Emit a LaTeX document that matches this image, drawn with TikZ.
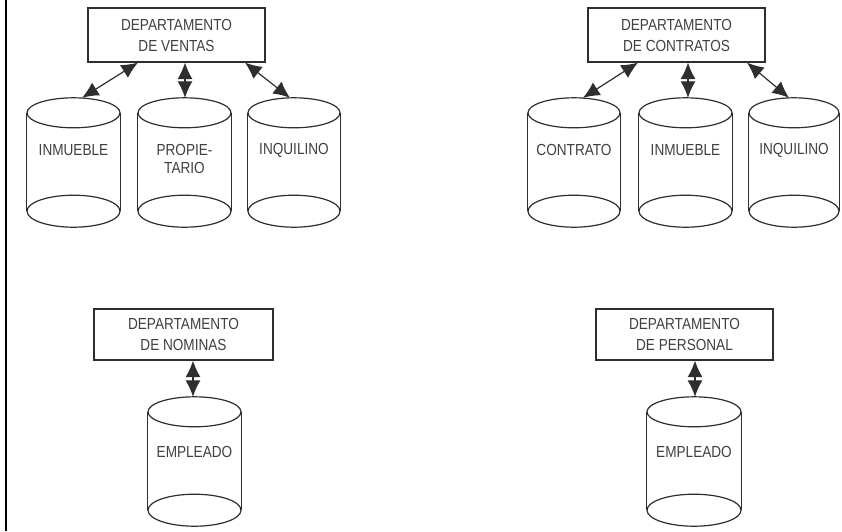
\documentclass[tikz,border=0pt]{standalone}
\usepackage{fontspec}
\setmainfont[FakeStretch=0.85]{Liberation Sans}
\usetikzlibrary{arrows.meta,calc}
\definecolor{ln}{HTML}{2E2E2E}
\definecolor{tx}{HTML}{404040}
\tikzset{
  deptbox/.style={draw=ln, line width=1.2pt, fill=white, minimum width=177pt, minimum height=54pt, inner sep=0pt, align=center, text=tx, font=\fontsize{16}{21}\selectfont},
  cylbox/.style={draw=none, minimum width=93pt, inner sep=0pt},
  cylline/.style={draw=ln, line width=1.2pt},
  lbl/.style={text=tx, font=\fontsize{16}{18}\selectfont, align=center, inner sep=0pt},
  link/.style={draw=ln, line width=1.2pt, arrows={Latex[length=16.5pt,width=15pt]-Latex[length=16.5pt,width=15pt]}},
  border/.style={draw=black, line width=2.2pt}
}
\newcommand\dbcyl[4]{%
  \node[cylbox, minimum width=#4pt, minimum height=129pt] (#1) at (#2,#3+64.5) {};
  \draw[cylline] ([yshift=-15pt]#1.north) ellipse[x radius=#4pt/2, y radius=15pt];
  \draw[cylline] ([yshift=16pt]#1.south) ellipse[x radius=#4pt/2, y radius=16pt];
  \draw[cylline] ([yshift=-15pt]#1.north west) -- ([yshift=16pt]#1.south west);
  \draw[cylline] ([yshift=-15pt]#1.north east) -- ([yshift=16pt]#1.south east);
}
\begin{document}
\begin{tikzpicture}[x=1pt,y=-1pt]
\useasboundingbox (0,0) rectangle (842,531);
\fill[white] (0,0) rectangle (842,531);
\draw[border] (6,0) -- (6,531);

% top-left group
\node[deptbox] (ventas) at (176.5,35) {DEPARTAMENTO\\DE VENTAS};
\dbcyl{inmA}{73.5}{98}{93}
\dbcyl{propA}{184.5}{98}{93}
\dbcyl{inqA}{294}{98}{92}
\node[lbl] (inmAt) at (73.5,150) {INMUEBLE};
\node[lbl] (propAt) at (184.5,159) {PROPIE-\\TARIO};
\node[lbl] (inqAt) at (294,150) {INQUILINO};
\draw[link] ([xshift=-38.5pt]ventas.south) -- ([xshift=8.5pt]inmA.north);
\draw[link] ([xshift=8.5pt]ventas.south) -- ([xshift=0.5pt]propA.north);
\draw[link] ([xshift=68.5pt]ventas.south) -- ([xshift=-4pt]inqA.north);

% top-right group
\node[deptbox] (contratos) at (676.5,35) {DEPARTAMENTO\\DE CONTRATOS};
\dbcyl{contB}{574}{98}{92}
\dbcyl{inmB}{685.5}{98}{93}
\dbcyl{inqB}{794}{98}{90}
\node[lbl] (contBt) at (574,150) {CONTRATO};
\node[lbl] (inmBt) at (685.5,150) {INMUEBLE};
\node[lbl] (inqBt) at (794,150) {INQUILINO};
\draw[link] ([xshift=-38.5pt]contratos.south) -- ([xshift=9pt]contB.north);
\draw[link] ([xshift=11.5pt]contratos.south) -- ([xshift=2.5pt]inmB.north);
\draw[link] ([xshift=70.5pt]contratos.south) -- ([xshift=-5pt]inqB.north);

% bottom-left group
\node[deptbox, minimum width=179pt, minimum height=51pt] (nominas) at (183.5,334.5) {DEPARTAMENTO\\DE NOMINAS};
\dbcyl{empA}{194.5}{397}{93}
\node[lbl] (empAt) at (194.5,452) {EMPLEADO};
\draw[link] ([xshift=9.5pt]nominas.south) -- ([xshift=-1.5pt]empA.north);

% bottom-right group
\node[deptbox, minimum width=177pt, minimum height=51pt] (personal) at (684.5,334.5) {DEPARTAMENTO\\DE PERSONAL};
\dbcyl{empB}{694}{397}{94}
\node[lbl] (empBt) at (694,452) {EMPLEADO};
\draw[link] ([xshift=10.5pt]personal.south) -- ([xshift=1pt]empB.north);
\end{tikzpicture}
\end{document}
